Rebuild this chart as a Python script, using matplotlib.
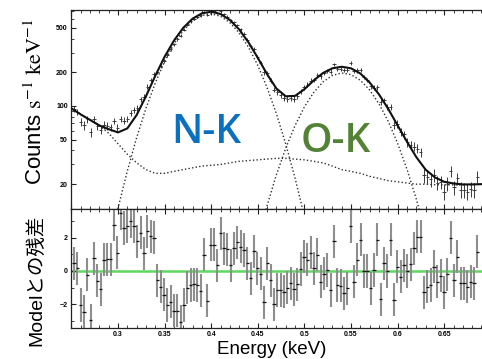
import matplotlib
matplotlib.use("Agg")
import matplotlib.pyplot as plt
from matplotlib.ticker import FixedLocator, FixedFormatter, MultipleLocator, LogLocator, NullFormatter

plt.rcParams['font.family'] = ['Liberation Sans', 'Noto Sans CJK JP', 'DejaVu Sans']
plt.rcParams['mathtext.fontset'] = 'stix'

# ---- fitted model components (counts s^-1 keV^-1) ----
model_energy = [0.25, 0.26, 0.27, 0.28, 0.29, 0.30, 0.31, 0.32, 0.33, 0.34,
                0.35, 0.36, 0.37, 0.38, 0.39, 0.40, 0.41, 0.42, 0.43, 0.44,
                0.45, 0.46, 0.47, 0.48, 0.49, 0.50, 0.51, 0.52, 0.53, 0.54,
                0.55, 0.56, 0.57, 0.58, 0.59, 0.60, 0.61, 0.62, 0.63, 0.64,
                0.65, 0.66, 0.67, 0.68, 0.69]
model_total = [95, 84, 75, 67, 62, 58, 63, 83, 122, 186,
               275, 383, 499, 602, 672, 695, 663, 587, 483, 370,
               269, 192, 143, 122, 123, 141, 169, 197, 217, 224,
               217, 195, 162, 127, 94, 67, 48, 35, 27, 23,
               21, 20.3, 19.9, 19.9, 20]
model_continuum = [95, 84, 75, 67, 57, 46, 37, 31, 27, 25,
                   25, 26, 27, 28, 29, 29.5, 30, 31, 32, 32.5,
                   33, 33.5, 34, 34, 33.5, 33, 32, 31, 29, 27,
                   26, 25, 23.5, 22.5, 21.5, 21, 20.5, 20, 20, 19.8,
                   19.7, 19.7, 19.7, 19.8, 20]

nk_energy = [0.28, 0.29, 0.30, 0.31, 0.32, 0.33, 0.34, 0.35, 0.36, 0.37,
             0.38, 0.39, 0.40, 0.41, 0.42, 0.43, 0.44, 0.45, 0.46, 0.47,
             0.48, 0.49, 0.50, 0.51, 0.52]
nk_line = [2.1, 5.2, 12.2, 26.2, 52.1, 95.3, 160.6, 249.6, 357.4, 471.8,
           573.9, 643.4, 665, 632.9, 555.5, 449.3, 334.8, 230.0, 145.6, 85.0,
           45.7, 22.6, 10.3, 4.4, 1.7]

ok_energy = [0.44, 0.45, 0.46, 0.47, 0.48, 0.49, 0.50, 0.51, 0.52, 0.53,
             0.54, 0.55, 0.56, 0.57, 0.58, 0.59, 0.60, 0.61, 0.62, 0.63, 0.64]
ok_line = [2.8, 6.3, 12.9, 24.3, 42.0, 66.9, 98.0, 132.2, 164.0, 187.3,
           197, 190.5, 169.6, 138.9, 104.7, 72.7, 46.4, 27.3, 14.8, 7.3, 3.4]

# ---- binned spectrum ----
energy = [0.2528, 0.2564, 0.2600, 0.2635, 0.2671, 0.2707, 0.2743, 0.2778, 0.2814, 0.2850,
          0.2886, 0.2921, 0.2957, 0.2993, 0.3029, 0.3065, 0.3100, 0.3136, 0.3172, 0.3208,
          0.3243, 0.3279, 0.3315, 0.3351, 0.3386, 0.3422, 0.3458, 0.3494, 0.3529, 0.3565,
          0.3601, 0.3637, 0.3673, 0.3708, 0.3744, 0.3780, 0.3816, 0.3851, 0.3887, 0.3923,
          0.3959, 0.3994, 0.4030, 0.4066, 0.4102, 0.4137, 0.4173, 0.4209, 0.4245, 0.4281,
          0.4316, 0.4352, 0.4388, 0.4424, 0.4459, 0.4495, 0.4531, 0.4567, 0.4602, 0.4638,
          0.4674, 0.4710, 0.4745, 0.4781, 0.4817, 0.4853, 0.4889, 0.4924, 0.4960, 0.4996,
          0.5032, 0.5067, 0.5103, 0.5139, 0.5175, 0.5210, 0.5246, 0.5282, 0.5318, 0.5353,
          0.5389, 0.5425, 0.5461, 0.5497, 0.5532, 0.5568, 0.5604, 0.5640, 0.5675, 0.5711,
          0.5747, 0.5783, 0.5818, 0.5854, 0.5890, 0.5926, 0.5961, 0.5997, 0.6033, 0.6069,
          0.6105, 0.6140, 0.6176, 0.6212, 0.6248, 0.6283, 0.6319, 0.6355, 0.6391, 0.6426,
          0.6462, 0.6498, 0.6534, 0.6569, 0.6605, 0.6641, 0.6677, 0.6713, 0.6748, 0.6784,
          0.6820, 0.6856]
counts = [94.7, 88.9, 72.1, 67.0, 76.3, 58.3, 75.7, 65.7, 60.7, 67.9,
          66.2, 64.6, 73.3, 63.6, 76.5, 74.1, 76.5, 86.0, 92.4, 96.6,
          114.3, 121.0, 149.0, 171.0, 193.8, 200.6, 228.4, 254.7, 283.6, 323.4,
          354.6, 394.7, 425.9, 478.0, 529.6, 568.5, 600.7, 624.2, 643.5, 693.2,
          655.9, 719.8, 711.5, 679.8, 698.4, 656.7, 627.7, 583.0, 560.2, 527.3,
          484.9, 440.7, 389.3, 340.7, 323.7, 275.8, 243.3, 199.7, 195.0, 168.8,
          140.0, 132.3, 125.2, 117.2, 115.2, 117.3, 115.2, 121.6, 134.7, 146.8,
          155.2, 168.6, 171.1, 188.1, 184.4, 197.4, 206.7, 202.8, 235.1, 212.7,
          214.7, 209.6, 209.9, 242.3, 204.1, 208.0, 210.4, 181.8, 170.3, 149.9,
          146.1, 146.8, 109.3, 112.2, 97.3, 98.2, 67.8, 69.2, 59.0, 55.6,
          47.4, 44.4, 43.4, 41.6, 38.5, 24.0, 23.1, 22.1, 24.2, 20.6,
          21.0, 17.2, 20.2, 26.2, 18.7, 22.6, 17.9, 17.8, 17.2, 18.1,
          17.8, 23.3]
counts_err = [6.0, 5.9, 5.8, 5.7, 5.6, 5.4, 5.3, 5.2, 5.1, 5.1,
              5.0, 4.9, 4.9, 4.8, 4.9, 4.9, 5.0, 5.3, 5.5, 5.9,
              6.3, 6.7, 7.2, 7.8, 8.4, 9.0, 9.7, 10.4, 11.0, 11.7,
              12.4, 13.0, 13.6, 14.2, 14.7, 15.2, 15.6, 15.9, 16.2, 16.4,
              16.5, 16.6, 16.5, 16.4, 16.2, 15.9, 15.5, 15.1, 14.6, 14.1,
              13.6, 13.0, 12.3, 11.7, 11.1, 10.4, 9.9, 9.3, 8.7, 8.3,
              7.9, 7.5, 7.3, 7.1, 7.0, 7.0, 7.0, 7.1, 7.3, 7.5,
              7.7, 8.0, 8.2, 8.5, 8.7, 8.9, 9.1, 9.2, 9.3, 9.4,
              9.4, 9.4, 9.3, 9.3, 9.1, 9.0, 8.8, 8.5, 8.2, 7.9,
              7.6, 7.3, 6.9, 6.6, 6.2, 5.9, 5.6, 5.2, 4.9, 4.6,
              4.3, 4.1, 3.9, 3.7, 3.5, 3.4, 3.2, 3.1, 3.1, 3.0,
              2.9, 2.9, 2.9, 2.9, 2.8, 2.8, 2.8, 2.8, 2.8, 2.8,
              2.8, 2.8]
residual = [0.46, 0.15, -2.06, -2.46, -0.24, -2.97, 0.77, -0.6, -1.1, 0.67,
            0.7, 0.7, 2.8, 1.1, 3.5, 2.6, 2.7, 3.0, 2.7, 1.8,
            2.3, 1.07, 2.4, 2.1, 2.0, -0.55, -0.95, -1.45, -2.06, -1.86,
            -2.4, -2.4, -3.07, -2.06, -1.0, -0.85, -0.8, -0.85, -1.2, 0.97,
            -1.8, 1.58, 1.58, 0.36, 2.28, 1.37, 1.3, 0.36, 1.37, 1.74,
            1.47, 1.27, 0.46, -0.44, 1.2, 0.16, -0.18, -1.9, 0.46, -0.55,
            -2.0, -1.15, -1.15, -1.25, -1.0, -0.75, -1.1, -0.8, 0.12, 0.87,
            0.67, 1.1, 0.16, 0.97, -0.65, -0.18, 0.06, -1.15, 1.8, -0.85,
            -0.9, -1.35, -1.05, 2.7, -0.65, 0.67, 1.9, 0.0, 0.0, -1.05,
            0.06, 1.9, -1.7, 0.46, 0.0, 1.9, -1.75, 0.26, -0.34, 0.36,
            0.0, 0.4, 1.37, 2.08, 2.08, -1.3, -0.95, -0.85, 0.26, -0.65,
            -0.28, -1.3, -0.2, 2.0, -0.55, 0.87, -0.75, -0.75, -0.95, -0.65,
            -0.75, 1.17]
residual_err = 1.0
bin_half_width = 0.0018

xtick_values = [0.3, 0.35, 0.4, 0.45, 0.5, 0.55, 0.6, 0.65]
xtick_labels = ['0.3', '0.35', '0.4', '0.45', '0.5', '0.55', '0.6', '0.65']
ytick_values = [20, 50, 100, 200, 500]
ytick_labels = ['20', '50', '100', '200', '500']
rtick_values = [-2, 0, 2]
rtick_labels = ['\u22122', '0', '2']

W, H = 482, 359
fig = plt.figure(figsize=(W / 100, H / 100), dpi=100)
x0, x1 = 71.4, 490.8
ax1 = fig.add_axes([x0 / W, 1 - 209 / H, (x1 - x0) / W, (209 - 10) / H])
ax2 = fig.add_axes([x0 / W, 1 - 328 / H, (x1 - x0) / W, (328 - 209) / H], sharex=ax1)

# upper panel: spectrum and model
ax1.errorbar(energy, counts, yerr=counts_err, xerr=bin_half_width, fmt='none',
             ecolor='#3a3a3a', elinewidth=0.7, zorder=2)
dot = (0, (1.0, 1.6))
ax1.plot(model_energy, model_continuum, color='#303030', lw=1.0, ls=dot, zorder=3)
ax1.plot(nk_energy, nk_line, color='#303030', lw=1.0, ls=dot, zorder=3)
ax1.plot(ok_energy, ok_line, color='#303030', lw=1.0, ls=dot, zorder=3)
ax1.plot(model_energy, model_total, color='#111111', lw=1.5, zorder=4)

ax1.set_yscale('log')
ax1.set_xlim(0.25, 0.70)
ax1.set_ylim(12, 720)
ax1.yaxis.set_major_locator(FixedLocator(ytick_values))
ax1.yaxis.set_major_formatter(FixedFormatter(ytick_labels))
ax1.yaxis.set_minor_locator(LogLocator(base=10, subs=(1, 2, 3, 4, 5, 6, 7, 8, 9)))
ax1.yaxis.set_minor_formatter(NullFormatter())

ax1.text(0.3944, 46.6, 'N-K', color='#0a70c0', fontsize=29, ha='center', va='baseline',
         family=['Open Sans', 'DejaVu Sans'], fontweight='semibold', zorder=6)
ax1.text(0.5339, 38.7, 'O-K', color='#538135', fontsize=29, ha='center', va='baseline',
         family=['Open Sans', 'DejaVu Sans'], fontweight='semibold', zorder=6)

# lower panel: residuals
ax2.axhline(0, color='#5fd85f', lw=1.8, zorder=1)
ax2.errorbar(energy, residual, yerr=residual_err, fmt='none',
             ecolor='#8e8e8e', elinewidth=1.5, zorder=2)
ax2.errorbar(energy, residual, xerr=bin_half_width, fmt='none',
             ecolor='#151515', elinewidth=0.9, zorder=3)
ax2.set_ylim(-3.45, 3.75)
ax2.yaxis.set_major_locator(FixedLocator(rtick_values))
ax2.yaxis.set_major_formatter(FixedFormatter(rtick_labels))
ax2.yaxis.set_minor_locator(MultipleLocator(1))

ax2.xaxis.set_major_locator(FixedLocator([0.25] + xtick_values + [0.7]))
ax2.xaxis.set_major_formatter(FixedFormatter([''] + xtick_labels + ['']))
ax2.xaxis.set_minor_locator(MultipleLocator(0.01))

for ax in (ax1, ax2):
    for s in ax.spines.values():
        s.set_linewidth(0.9)
        s.set_color('#222222')
    ax.tick_params(which='both', direction='in', top=True, bottom=True, right=True,
                   left=True, color='#222222')
    ax.tick_params(which='major', length=3.5, width=0.8, labelsize=5, pad=2.5)
    ax.tick_params(which='minor', length=2, width=0.6)
    for lab in ax.get_xticklabels() + ax.get_yticklabels():
        lab.set_fontweight('bold')
ax1.tick_params(labelbottom=False)

fig.text(36 / W, 1 - 102 / H, r'Counts $\mathrm{s^{-1}\ keV^{-1}}$', rotation=90,
         ha='center', va='center', fontsize=16)
fig.text(36 / W, 1 - 280 / H, 'Modelとの残差', rotation=90, ha='center', va='center',
         fontsize=14, family=['Liberation Sans', 'Noto Sans CJK JP'])
fig.text(272 / W, 1 - 354.5 / H, 'Energy (keV)', ha='center', va='baseline', fontsize=13.5)

fig.savefig('out.png', dpi=100)
